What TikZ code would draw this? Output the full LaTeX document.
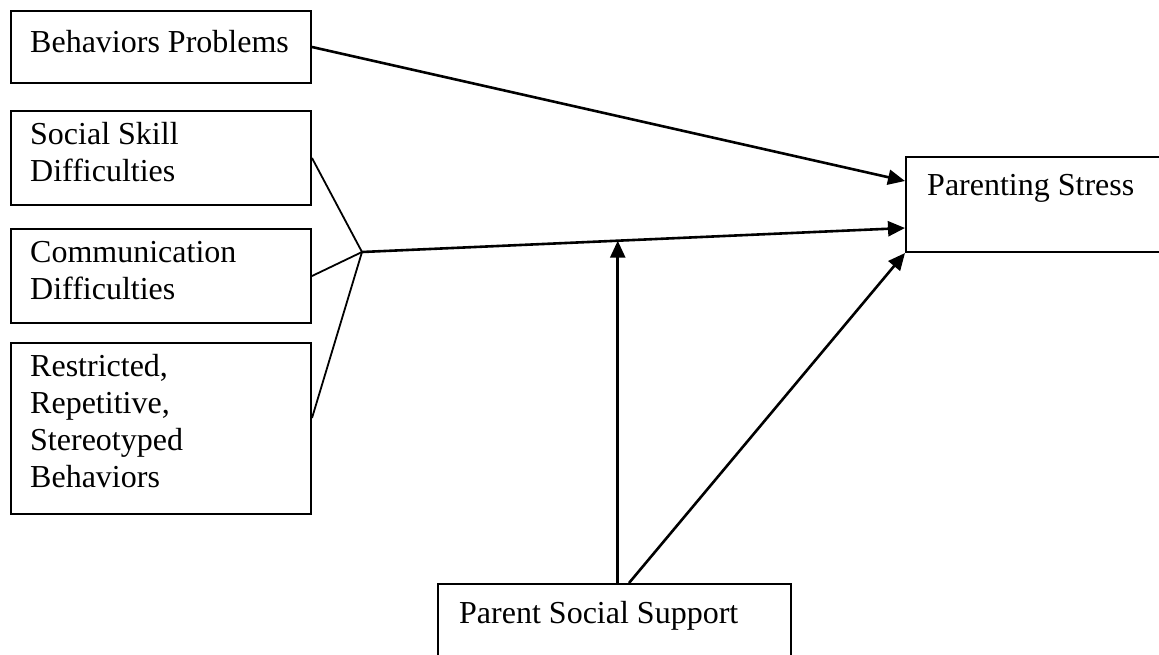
\documentclass[tikz,border=0pt]{standalone}
\usepackage{fontspec}
\setmainfont{Liberation Serif}
\usetikzlibrary{calc,arrows.meta}

\begin{document}
\begin{tikzpicture}[x = 1pt, y = -1pt]
\tikzstyle{BoxStyle}=[shape = rectangle,
                      draw,
                      line width = 2pt,
                      anchor = north west,
                      inner sep = 0pt]
\tikzstyle{TextStyle}=[anchor = north west,
                       inner sep = 0pt,
                       align = left,
                       font = \fontsize{32}{37}\selectfont,
                       execute at begin node = \strut]
\tikzstyle{EdgeStyle}=[line width = 2.6pt, -{Triangle[length = 17pt, width = 15pt]}]
\tikzstyle{LinkStyle}=[line width = 1.8pt]
\useasboundingbox (0,0) rectangle (1159,654);
\node[BoxStyle, minimum width = 300pt, minimum height = 72pt] (bp) at (10,10) {};
\node[BoxStyle, minimum width = 300pt, minimum height = 94pt] (ss) at (10,110) {};
\node[BoxStyle, minimum width = 300pt, minimum height = 94pt] (cd) at (10,228) {};
\node[BoxStyle, minimum width = 300pt, minimum height = 171pt] (rr) at (10,342) {};
\node[BoxStyle, minimum width = 270pt, minimum height = 95pt] (ps) at (905,156) {};
\node[BoxStyle, minimum width = 353pt, minimum height = 110pt] (pss) at (437,583) {};
\node[TextStyle] (bpt) at ([shift = {(20,16)}]bp.north west) {Behaviors Problems};
\node[TextStyle] (sst) at ([shift = {(20,12)}]ss.north west) {Social Skill\\Difficulties};
\node[TextStyle] (cdt) at ([shift = {(20,13)}]cd.north west) {Communication\\Difficulties};
\node[TextStyle] (rrt) at ([shift = {(20,12)}]rr.north west) {Restricted,\\Repetitive,\\Stereotyped\\Behaviors};
\node[TextStyle] (pst) at ([shift = {(22,13)}]ps.north west) {Parenting Stress};
\node[TextStyle] (psst) at ([shift = {(22,14)}]pss.north west) {Parent Social Support};
\coordinate (j) at (362,252);
\coordinate (ps1) at ([yshift = -25pt]ps.north west);
\coordinate (ps2) at ([yshift = -72pt]ps.north west);
\coordinate (m) at ($(j)!0.471!(ps2)$);
\draw[LinkStyle] (ss.east) -- (j);
\draw[LinkStyle] (cd.east) -- (j);
\draw[LinkStyle] ([yshift = 10.5pt]rr.east) -- (j);
\draw[EdgeStyle] (bp.east) -- (ps1);
\draw[EdgeStyle] (j) -- (ps2);
\draw[EdgeStyle] (pss.north -| m) -- (m);
\draw[EdgeStyle] ([xshift = 14.5pt]pss.north) -- (ps.south west);
\end{tikzpicture}
\end{document}
